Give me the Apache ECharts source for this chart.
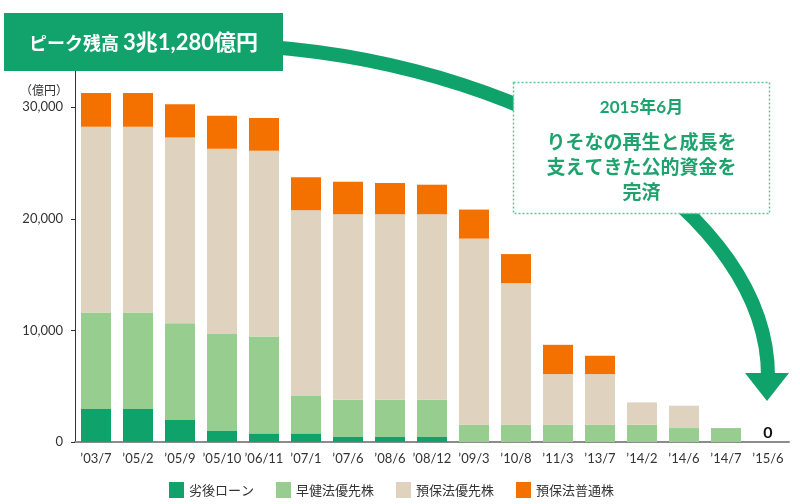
<!DOCTYPE html>
<html>
<head>
<meta charset="utf-8">
<script src="https://cdn.jsdelivr.net/npm/echarts@6/dist/echarts.min.js"></script>
<style>
html,body{margin:0;padding:0;background:#fff;}
#chart{width:800px;height:504px;}
</style>
</head>
<body>
<div id="chart"></div>
<script>
const categories = ["’03/7","’05/2","’05/9","’05/10","’06/11","’07/1","’07/6","’08/6","’08/12","’09/3","’10/8","’11/3","’13/7","’14/2","’14/6","’14/7","’15/6"];
const seriesNames = ["劣後ローン","早健法優先株","預保法優先株","預保法普通株"];
const subordinatedLoan = [2950,2950,1970,990,770,770,450,450,450,0,0,0,0,0,0,0,0];
const earlyPreferred   = [8660,8660,8680,8680,8680,3350,3340,3340,3340,1550,1550,1550,1550,1550,1250,1250,0];
const dicPreferred     = [16650,16650,16650,16620,16650,16650,16620,16620,16620,16680,12690,4540,4540,2000,2000,0,0];
const dicCommon        = [3020,3020,2960,2950,2930,2950,2920,2800,2650,2600,2600,2620,1640,0,0,0,0];
const yTicks = [0,10000,20000,30000];

const colors = ['#0fa36b','#97cd8f','#dfd3c0','#f47100'];
const FONT = "Lato, 'Noto Sans CJK JP', sans-serif";
const CJK = "'Noto Sans CJK JP', sans-serif";

const chart = echarts.init(document.getElementById('chart'), null, {renderer:'canvas'});

function mk(name, values, idx){
  return {
    name: name,
    type: 'bar',
    stack: 'total',
    barWidth: 30,
    itemStyle: {color: colors[idx]},
    emphasis: {disabled: true},
    data: values.map((v, i) => {
      if (idx === 3 && i === values.length - 1) {
        return {value: v, label: {show: true, position: 'top', distance: 1, formatter: '0',
          color: '#111', fontWeight: 'bold', fontSize: 16, fontFamily: FONT}};
      }
      return v;
    })
  };
}

const option = {
  animation: false,
  backgroundColor: '#fff',
  grid: {left: 75, right: 11, top: 71, bottom: 62, containLabel: false},
  legend: {
    data: seriesNames,
    left: 164,
    top: 477,
    icon: 'rect',
    itemWidth: 15,
    itemHeight: 16,
    itemGap: 22,
    textStyle: {fontSize: 13, color: '#333', fontFamily: CJK}
  },
  xAxis: {
    type: 'category',
    data: categories,
    axisLine: {lineStyle: {color: '#8c8c8c', width: 2}},
    axisTick: {show: false},
    axisLabel: {color: '#333', fontSize: 13, fontFamily: FONT, margin: 10, interval: 0}
  },
  yAxis: {
    type: 'value',
    min: yTicks[0],
    max: 33250,
    interval: 10000,
    splitLine: {show: false},
    axisLine: {show: true, lineStyle: {color: '#333', width: 1}},
    axisTick: {show: true, length: 4, lineStyle: {color: '#333'}},
    axisLabel: {
      color: '#333', fontSize: 13, fontFamily: FONT, margin: 12, showMaxLabel: false,
      formatter: v => yTicks.indexOf(v) >= 0 ? v.toLocaleString('en-US') : ''
    }
  },
  series: [
    mk(seriesNames[0], subordinatedLoan, 0),
    mk(seriesNames[1], earlyPreferred, 1),
    mk(seriesNames[2], dicPreferred, 2),
    mk(seriesNames[3], dicCommon, 3)
  ],
  graphic: [
    {type: 'text', x: 68, y: 90, style: {text: '（億円）', fontSize: 12, fill: '#333', fontFamily: CJK, align: 'right', verticalAlign: 'middle'}},
    // curved arrow
    {type: 'bezierCurve', z: 5, shape: {x1: 270, y1: 47, cpx1: 540, cpy1: 68, cpx2: 768, cpy2: 215, x2: 768, y2: 376},
      style: {fill: null, stroke: '#0fa36b', lineWidth: 14}},
    {type: 'polygon', z: 5, shape: {points: [[745,373],[789,373],[767,401]]}, style: {fill: '#0fa36b'}},
    // banner
    {type: 'rect', z: 10, shape: {x: 4, y: 13, width: 279, height: 58}, style: {fill: '#12a36c'}},
    {type: 'text', z: 11, x: 143.5, y: 43, style: {
      text: '{a|ピーク残高 }{b|3兆1,280億円}', align: 'center', verticalAlign: 'middle',
      rich: {
        a: {fontSize: 18, fill: '#fff', fontFamily: CJK, fontWeight: 'bold'},
        b: {fontSize: 22, fill: '#fff', fontFamily: FONT, fontWeight: 'bold'}
      }
    }},
    // annotation box
    {type: 'rect', z: 20, shape: {x: 513.5, y: 82.5, width: 256, height: 131},
      style: {fill: '#fff', stroke: '#5cc598', lineWidth: 1.5, lineDash: [2, 2]}},
    {type: 'text', z: 21, x: 641.5, y: 108, style: {text: '2015年6月', align: 'center', verticalAlign: 'middle',
      fontSize: 17, fontWeight: 'bold', fill: '#1ea36e', fontFamily: FONT}},
    {type: 'text', z: 21, x: 641.5, y: 167, style: {text: 'りそなの再生と成長を\n支えてきた公的資金を\n完済', align: 'center', verticalAlign: 'middle',
      fontSize: 19, lineHeight: 25, fontWeight: 'bold', fill: '#1ea36e', fontFamily: CJK}}
  ]
};
chart.setOption(option);
</script>
</body>
</html>
